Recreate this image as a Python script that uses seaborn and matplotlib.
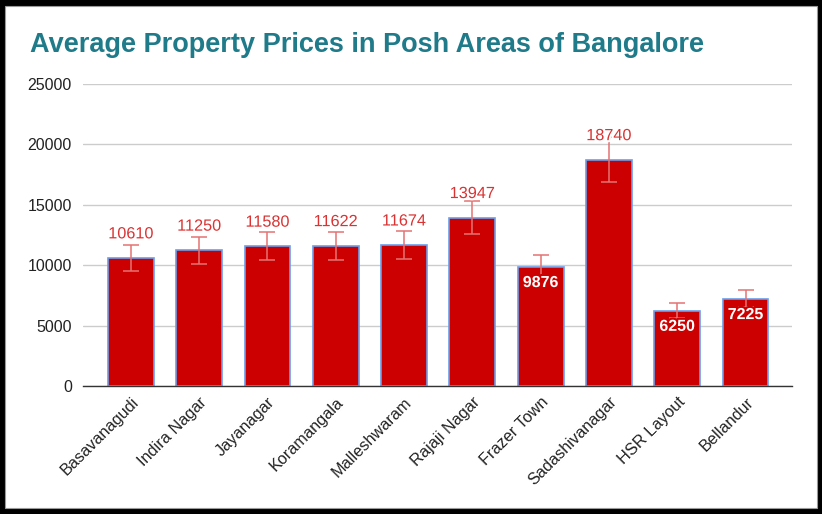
import matplotlib
matplotlib.use("Agg")
from matplotlib import pyplot as plt
from matplotlib.patches import Rectangle
import matplotlib.patheffects as pe
import seaborn as sns
import pandas as pd

# data
areas = ['Basavanagudi', 'Indira Nagar', 'Jayanagar', 'Koramangala', 'Malleshwaram',
         'Rajaji Nagar', 'Frazer Town', 'Sadashivanagar', 'HSR Layout', 'Bellandur']
prices = [10610, 11250, 11580, 11622, 11674, 13947, 9876, 18740, 6250, 7225]
errors = [1061, 1125, 1158, 1162, 1167, 1395, 988, 1874, 625, 723]
label_inside = [False, False, False, False, False, False, True, False, True, True]
y_ticks = [0, 5000, 10000, 15000, 20000, 25000]

df = pd.DataFrame({'area': areas, 'price': prices})

sns.set_style('white')
plt.rcParams['font.family'] = ['Liberation Sans', 'DejaVu Sans']

fig = plt.figure(figsize=(8.22, 5.14), dpi=100, facecolor='black')
# white card inside the black frame
fig.patches.append(Rectangle((5 / 822, 6 / 514), 812 / 822, 502 / 514, transform=fig.transFigure,
                             facecolor='white', edgecolor='#9a9a9a', linewidth=0.8, zorder=-1))

ax = fig.add_axes([83 / 822, 1 - 386 / 514, 709 / 822, 302 / 514])
ax.set_zorder(1)
ax.set_facecolor('none')

sns.barplot(data=df, x='area', y='price', color='#cc0000', saturation=1, width=0.67,
            edgecolor='#6d9eeb', linewidth=1.2, ax=ax, zorder=3)

xs = ax.get_xticks()
ax.errorbar(xs, prices, yerr=errors, fmt='none', ecolor='#e57373', elinewidth=1.1,
            capsize=6, capthick=1.1, zorder=4)

# labels carry a halo (white outside, bar colour inside) that hides the error line behind them
halo_out = [pe.withStroke(linewidth=3, foreground='white')]
halo_in = [pe.withStroke(linewidth=3, foreground='#cc0000')]
for x, v, inside in zip(xs, prices, label_inside):
    if inside:
        ax.annotate(str(v), (x, v), xytext=(0, -6), textcoords='offset points',
                    ha='center', va='top', color='white', fontsize=11.5, fontweight='bold', zorder=5,
                    path_effects=halo_in)
    else:
        ax.annotate(str(v), (x, v), xytext=(0, 14), textcoords='offset points',
                    ha='center', va='baseline', color='#d93333', fontsize=11.7, zorder=5,
                    path_effects=halo_out)

ax.set_ylim(0, 25000)
ax.set_xlim(-0.70, len(areas) - 0.32)
ax.set_yticks(y_ticks)
ax.set_yticklabels([str(t) for t in y_ticks], fontsize=11.5, color='#222222')
ax.yaxis.grid(True, color='#cccccc', linewidth=1, zorder=0)
ax.set_axisbelow(True)
ax.tick_params(axis='both', length=0, pad=8)
ax.tick_params(axis='x', pad=6)
for lbl in ax.get_xticklabels():
    lbl.set_rotation(45)
    lbl.set_ha('right')
    lbl.set_rotation_mode('anchor')
    lbl.set_fontsize(11.7)
    lbl.set_color('#222222')
for s in ['top', 'right', 'left']:
    ax.spines[s].set_visible(False)
ax.spines['bottom'].set_color('#333333')
ax.spines['bottom'].set_linewidth(1)
ax.spines['bottom'].set_zorder(6)
ax.set_xlabel('')
ax.set_ylabel('')

fig.text(30 / 822, 1 - 45 / 514, 'Average Property Prices in Posh Areas of Bangalore',
         fontsize=19.5, fontweight='bold', color='#1f7a89', ha='left', va='center')

fig.savefig('out.png', dpi=100, facecolor=fig.get_facecolor())
